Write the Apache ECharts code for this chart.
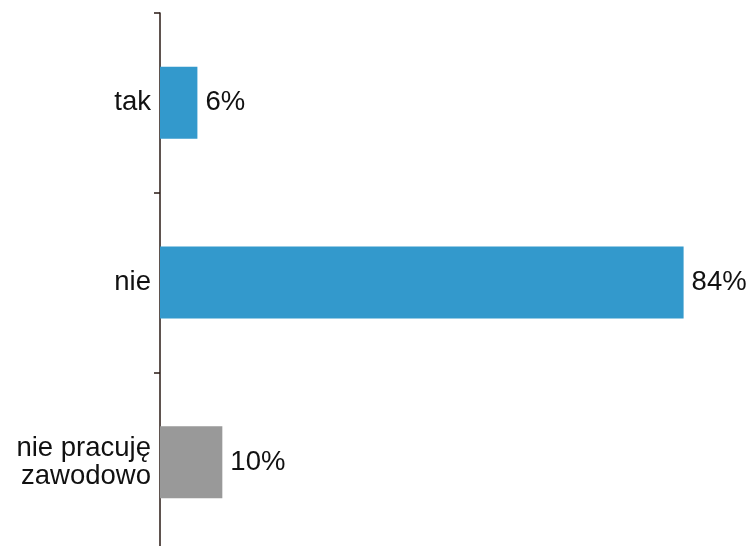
<!DOCTYPE html>
<html>
<head>
<meta charset="utf-8">
<script src="https://cdn.jsdelivr.net/npm/echarts@6/dist/echarts.min.js"></script>
<style>
  html, body { margin: 0; padding: 0; background: #fff; }
  #chart { width: 750px; height: 546px; }
</style>
</head>
<body>
<div id="chart"></div>
<script>
  // kategorie i wartości
  let categories = ['tak', 'nie', 'nie pracuję\nzawodowo']
  let values = [6, 84, 10]
  let barColors = ['#3399cc', '#3399cc', '#999999']

  let chart = echarts.init(document.getElementById('chart'))
  let option = {
    animation: false,
    grid: {
      left: 160,
      top: 13,
      height: 539,
      width: 561,
      outerBoundsMode: 'none'
    },
    xAxis: {
      type: 'value',
      min: 0,
      max: 90,
      show: false
    },
    yAxis: {
      type: 'category',
      inverse: true,
      data: categories,
      axisLine: {
        show: true,
        lineStyle: { color: '#2a1a14', width: 1.5 }
      },
      axisTick: {
        show: true,
        length: 6,
        lineStyle: { color: '#2a1a14', width: 1.5 }
      },
      axisLabel: {
        margin: 9,
        color: '#111',
        fontFamily: 'Liberation Sans, Arial, sans-serif',
        fontSize: 27.5,
        lineHeight: 28,
        align: 'right'
      }
    },
    series: [{
      type: 'bar',
      barWidth: 72,
      data: values.map((v, i) => ({
        value: v,
        itemStyle: { color: barColors[i] }
      })),
      label: {
        show: true,
        position: 'right',
        distance: 8,
        formatter: '{c}%',
        color: '#111',
        fontFamily: 'Liberation Sans, Arial, sans-serif',
        fontSize: 27.5
      }
    }]
  }
  chart.setOption(option)
</script>
</body>
</html>
